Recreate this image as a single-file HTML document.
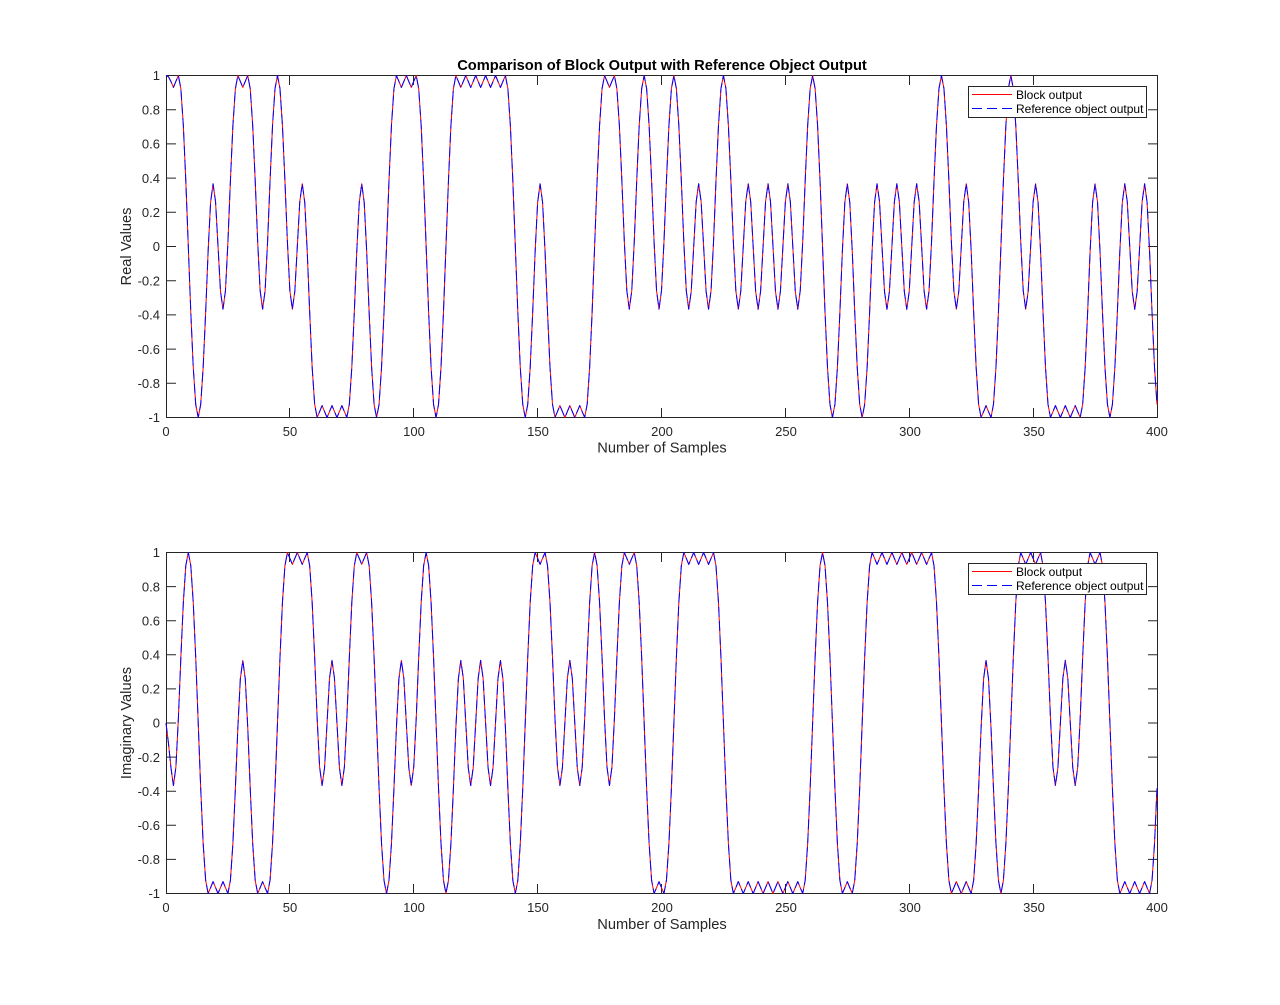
<!DOCTYPE html>
<html>
<head>
<meta charset="utf-8">
<style>
html,body{margin:0;padding:0;background:#ffffff;}
svg{display:block;}
text{font-family:"Liberation Sans",Arial,Helvetica,sans-serif;fill:#262626;}
.tk{font-size:13px;}
.lb{font-size:14.67px;}
.ttl{font-size:14.67px;font-weight:bold;fill:#000;}
.lg{font-size:12px;fill:#000;}
</style>
</head>
<body>
<svg id="fig" xmlns="http://www.w3.org/2000/svg" width="1280" height="1005" viewBox="0 0 1280 1005">
<rect x="0" y="0" width="1280" height="1005" fill="#ffffff"/>

<!-- ===== TOP AXES ===== -->
<rect x="166.5" y="75.5" width="991" height="342" fill="#ffffff" stroke="#262626" stroke-width="1"/>
<path stroke="#262626" stroke-width="1" fill="none" d="
M166.5 75.5H176 M166.5 109.7H176 M166.5 143.9H176 M166.5 178.1H176 M166.5 212.3H176 M166.5 246.5H176 M166.5 280.7H176 M166.5 314.9H176 M166.5 349.1H176 M166.5 383.3H176 M166.5 417.5H176
M1157.5 75.5H1148 M1157.5 109.7H1148 M1157.5 143.9H1148 M1157.5 178.1H1148 M1157.5 212.3H1148 M1157.5 246.5H1148 M1157.5 280.7H1148 M1157.5 314.9H1148 M1157.5 349.1H1148 M1157.5 383.3H1148 M1157.5 417.5H1148
M166.5 417.5V408 M289.5 417.5V408 M413.5 417.5V408 M537.5 417.5V408 M661.5 417.5V408 M785.5 417.5V408 M909.5 417.5V408 M1033.5 417.5V408 M1157.5 417.5V408
M166.5 75.5V85 M289.5 75.5V85 M413.5 75.5V85 M537.5 75.5V85 M661.5 75.5V85 M785.5 75.5V85 M909.5 75.5V85 M1033.5 75.5V85 M1157.5 75.5V85"/>

<g class="tk" text-anchor="end">
<text x="160" y="80.2">1</text>
<text x="160" y="114.4">0.8</text>
<text x="160" y="148.6">0.6</text>
<text x="160" y="182.8">0.4</text>
<text x="160" y="217">0.2</text>
<text x="160" y="251.2">0</text>
<text x="160" y="285.4">-0.2</text>
<text x="160" y="319.6">-0.4</text>
<text x="160" y="353.8">-0.6</text>
<text x="160" y="388">-0.8</text>
<text x="160" y="422.2">-1</text>
</g>
<g class="tk" text-anchor="middle">
<text x="166" y="436">0</text>
<text x="290" y="436">50</text>
<text x="414" y="436">100</text>
<text x="538" y="436">150</text>
<text x="662" y="436">200</text>
<text x="786" y="436">250</text>
<text x="910" y="436">300</text>
<text x="1034" y="436">350</text>
<text x="1157" y="436">400</text>
</g>
<text class="lb" x="662" y="452.5" text-anchor="middle">Number of Samples</text>
<text class="lb" text-anchor="middle" transform="translate(131,246.5) rotate(-90)">Real Values</text>
<text class="ttl" x="662" y="70" text-anchor="middle">Comparison of Block Output with Reference Object Output</text>

<!-- ===== BOTTOM AXES ===== -->
<rect x="166.5" y="552.5" width="991" height="341" fill="#ffffff" stroke="#262626" stroke-width="1"/>
<path stroke="#262626" stroke-width="1" fill="none" d="
M166.5 552.5H176 M166.5 586.6H176 M166.5 620.7H176 M166.5 654.8H176 M166.5 688.9H176 M166.5 723H176 M166.5 757.1H176 M166.5 791.2H176 M166.5 825.3H176 M166.5 859.4H176 M166.5 893.5H176
M1157.5 552.5H1148 M1157.5 586.6H1148 M1157.5 620.7H1148 M1157.5 654.8H1148 M1157.5 688.9H1148 M1157.5 723H1148 M1157.5 757.1H1148 M1157.5 791.2H1148 M1157.5 825.3H1148 M1157.5 859.4H1148 M1157.5 893.5H1148
M166.5 893.5V884 M289.5 893.5V884 M413.5 893.5V884 M537.5 893.5V884 M661.5 893.5V884 M785.5 893.5V884 M909.5 893.5V884 M1033.5 893.5V884 M1157.5 893.5V884
M166.5 552.5V562 M289.5 552.5V562 M413.5 552.5V562 M537.5 552.5V562 M661.5 552.5V562 M785.5 552.5V562 M909.5 552.5V562 M1033.5 552.5V562 M1157.5 552.5V562"/>

<g class="tk" text-anchor="end">
<text x="160" y="557.2">1</text>
<text x="160" y="591.3">0.8</text>
<text x="160" y="625.4">0.6</text>
<text x="160" y="659.5">0.4</text>
<text x="160" y="693.6">0.2</text>
<text x="160" y="727.7">0</text>
<text x="160" y="761.8">-0.2</text>
<text x="160" y="795.9">-0.4</text>
<text x="160" y="830">-0.6</text>
<text x="160" y="864.1">-0.8</text>
<text x="160" y="898.2">-1</text>
</g>
<g class="tk" text-anchor="middle">
<text x="166" y="912">0</text>
<text x="290" y="912">50</text>
<text x="414" y="912">100</text>
<text x="538" y="912">150</text>
<text x="662" y="912">200</text>
<text x="786" y="912">250</text>
<text x="910" y="912">300</text>
<text x="1034" y="912">350</text>
<text x="1157" y="912">400</text>
</g>
<text class="lb" x="662" y="929" text-anchor="middle">Number of Samples</text>
<text class="lb" text-anchor="middle" transform="translate(131,723) rotate(-90)">Imaginary Values</text>

<!-- ===== DATA ===== -->
<path id="re_red" fill="none" stroke="#ff0000" stroke-width="1" stroke-linejoin="round" d=""/>
<path id="re_blue" fill="none" stroke="#0000ff" stroke-width="1" stroke-dasharray="10 4" stroke-linejoin="round" d=""/>
<path id="im_red" fill="none" stroke="#ff0000" stroke-width="1" stroke-linejoin="round" d=""/>
<path id="im_blue" fill="none" stroke="#0000ff" stroke-width="1" stroke-dasharray="10 4" stroke-linejoin="round" d=""/>

<!-- ===== LEGENDS ===== -->
<rect x="968.5" y="86.5" width="178" height="31" fill="#ffffff" stroke="#262626" stroke-width="1"/>
<line x1="972" y1="94.5" x2="1012" y2="94.5" stroke="#ff0000" stroke-width="1"/>
<line x1="972" y1="108.5" x2="1012" y2="108.5" stroke="#0000ff" stroke-width="1" stroke-dasharray="10 5"/>
<text class="lg" x="1016" y="98.8">Block output</text>
<text class="lg" x="1016" y="113.2">Reference object output</text>

<rect x="968.5" y="563.5" width="178" height="31" fill="#ffffff" stroke="#262626" stroke-width="1"/>
<line x1="972" y1="571.5" x2="1012" y2="571.5" stroke="#ff0000" stroke-width="1"/>
<line x1="972" y1="585.5" x2="1012" y2="585.5" stroke="#0000ff" stroke-width="1" stroke-dasharray="10 5"/>
<text class="lg" x="1016" y="575.8">Block output</text>
<text class="lg" x="1016" y="590.2">Reference object output</text>
</svg>

<script>
(function(){
  var S = "+-+" +
    "-++++-++--" + "+++-++-+--" + "++++-+++++" + "-+-+----++" + "-+---++---" +
    "+++-+---+-" + "+-+-+++++-" + "--+-+-+---" + "+--++++-++" + "-+--+++-+-" +
    "-" + "--";
  var P = 3, M = 8, t0 = -1 - 4 * P, N = S.length * 4 * M;
  var r = new Float64Array(N), j, i;
  for (j = 0; j < N; j++) { r[j] = S.charAt(Math.floor(j / (4 * M))) === '+' ? 1 : -1; }
  var sig = 1.31 * M, H = Math.ceil(4 * sig), g = [], gs = 0;
  for (i = -H; i <= H; i++) { var v = Math.exp(-i * i / (2 * sig * sig)); g.push(v); gs += v; }
  var f = new Float64Array(N);
  for (j = 0; j < N; j++) {
    var s = 0;
    for (i = -H; i <= H; i++) {
      var jj = j + i; if (jj < 0) jj = 0; if (jj > N - 1) jj = N - 1;
      s += r[jj] * g[i + H];
    }
    f[j] = s / gs;
  }
  var cum = new Float64Array(N + 1);
  for (j = 0; j < N; j++) cum[j + 1] = cum[j] + f[j] * Math.PI / 8 / M;
  function ph(n) { return cum[Math.round((n - t0) * M)]; }
  var off = -ph(1);
  var d1 = "", d2 = "";
  for (var n = 0; n <= 400; n++) {
    var p = ph(n) + off;
    if (n === 0) p = 0; else if (n === 1) p = -0.12;
    var x = (166 + n * 2.4775).toFixed(2);
    var y1 = (75.5 + (1 - Math.cos(p)) * 171).toFixed(2);
    var y2 = (552.5 + (1 - Math.sin(p)) * 170.5).toFixed(2);
    d1 += (n ? "L" : "M") + x + " " + y1;
    d2 += (n ? "L" : "M") + x + " " + y2;
  }
  document.getElementById("re_red").setAttribute("d", d1);
  document.getElementById("re_blue").setAttribute("d", d1);
  document.getElementById("im_red").setAttribute("d", d2);
  document.getElementById("im_blue").setAttribute("d", d2);
})();
</script>
</body>
</html>
